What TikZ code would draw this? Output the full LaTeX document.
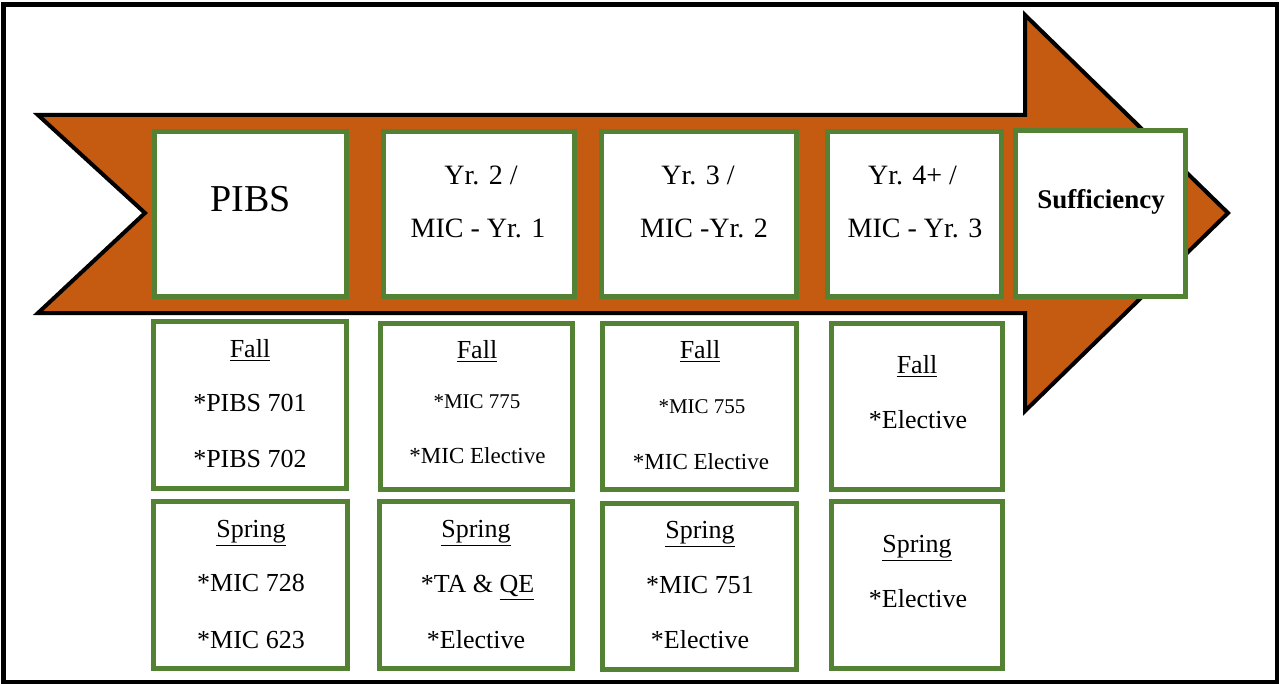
\documentclass[tikz,border=0pt]{standalone}
\usepackage{fontspec}
\setmainfont{Liberation Serif}
\definecolor{arrorange}{HTML}{C55A11}
\definecolor{boxgreen}{HTML}{548235}
\begin{document}
\begin{tikzpicture}[x=0.5pt,y=-0.5pt,
  box/.style={draw=boxgreen, line width=2.5pt, fill=white, inner sep=0pt, outer sep=0pt},
  lbl/.style={anchor=base, inner sep=0pt, outer sep=0pt},
  big/.style={font=\fontsize{19}{22}\selectfont},
  hd/.style={font=\fontsize{14}{17}\selectfont},
  txt/.style={font=\fontsize{13}{15}\selectfont},
  sml/.style={font=\fontsize{10.5}{13}\selectfont},
  mid/.style={font=\fontsize{11.5}{14}\selectfont}]
\useasboundingbox (0,0) rectangle (1279,684);
\fill[white] (0,0) rectangle (1279,684);
\draw[line width=2.5pt] (3,5) rectangle (1277,682);
% arrow
\draw[fill=arrorange, line width=2pt, line join=miter]
  (38,115) -- (1025,115) -- (1025,15) -- (1228,213) -- (1025,411) -- (1025,313) -- (38,313) -- (145,213) -- cycle;
% top row boxes
\node[box, minimum width=96pt, minimum height=82.5pt] (pibs) at (250.5,214) {};
\node[box, minimum width=95.5pt, minimum height=82.5pt] (yr2) at (479,214) {};
\node[box, minimum width=97.5pt, minimum height=82.5pt] (yr3) at (699,214) {};
\node[box, minimum width=87pt, minimum height=82.5pt] (yr4) at (914.5,214) {};
\node[box, minimum width=85pt, minimum height=83pt] (suff) at (1100.5,213.5) {};
% bottom boxes
\node[box, minimum width=96.5pt, minimum height=83.5pt] (pf) at (250,405) {};
\node[box, minimum width=97pt, minimum height=83.5pt] (ps) at (250.5,585) {};
\node[box, minimum width=96pt, minimum height=83pt] (f2) at (476.5,406.5) {};
\node[box, minimum width=96.5pt, minimum height=83.5pt] (s2) at (476,585) {};
\node[box, minimum width=97pt, minimum height=83pt] (f3) at (699.5,406.5) {};
\node[box, minimum width=97pt, minimum height=83pt] (s3) at (699.5,586.5) {};
\node[box, minimum width=85.5pt, minimum height=83pt] (f4) at (917,406.5) {};
\node[box, minimum width=85.5pt, minimum height=83.5pt] (s4) at (917,585) {};
% top texts
\node[lbl, big] (tpibs) at (251,212) {PIBS};
\node[lbl, hd] (tyr2a) at (481,185) {Yr. 2 /};
\node[lbl, hd] (tyr2b) at (478,238) {MIC - Yr. 1};
\node[lbl, hd] (tyr3a) at (698,185) {Yr. 3 /};
\node[lbl, hd] (tyr3b) at (704,238) {MIC -Yr. 2};
\node[lbl, hd] (tyr4a) at (912.5,185) {Yr. 4+ /};
\node[lbl, hd] (tyr4b) at (915,238) {MIC - Yr. 3};
\node[lbl, font=\fontsize{13.5}{16}\selectfont\bfseries] (tsuff) at (1101,209) {Sufficiency};
% PIBS column
\node[lbl, txt] (pfh) at (250,357) {\underline{Fall}};
\node[lbl, txt] (pf1) at (250,411) {*PIBS 701};
\node[lbl, txt] (pf2) at (250,467) {*PIBS 702};
\node[lbl, txt] (psh) at (251,537) {\underline{Spring}};
\node[lbl, txt] (ps1) at (251,591) {*MIC 728};
\node[lbl, txt] (ps2) at (251,648) {*MIC 623};
% Yr 2 column
\node[lbl, txt] (f2h) at (477,358) {\underline{Fall}};
\node[lbl, sml] (f21) at (477,408) {*MIC 775};
\node[lbl, mid] (f22) at (477.5,463) {*MIC Elective};
\node[lbl, txt] (s2h) at (476,537) {\underline{Spring}};
\node[lbl, txt] (s21) at (477.5,592) {*TA \& \underline{QE}};
\node[lbl, txt] (s22) at (476,648) {*Elective};
% Yr 3 column
\node[lbl, txt] (f3h) at (700,358) {\underline{Fall}};
\node[lbl, sml] (f31) at (702,413) {*MIC 755};
\node[lbl, mid] (f32) at (701,469) {*MIC Elective};
\node[lbl, txt] (s3h) at (700,538) {\underline{Spring}};
\node[lbl, txt] (s31) at (700,593) {*MIC 751};
\node[lbl, txt] (s32) at (700,648) {*Elective};
% Yr 4 column
\node[lbl, txt] (f4h) at (917,373) {\underline{Fall}};
\node[lbl, txt] (f41) at (918,428) {*Elective};
\node[lbl, txt] (s4h) at (917,552) {\underline{Spring}};
\node[lbl, txt] (s41) at (918,607) {*Elective};
\end{tikzpicture}
\end{document}
